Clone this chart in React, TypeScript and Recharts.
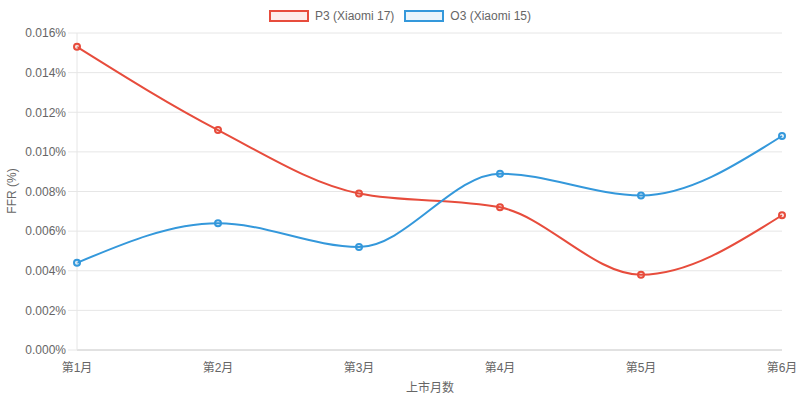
import React from 'react';
import { LineChart, Line, XAxis, YAxis, CartesianGrid } from 'recharts';

const months = ['第1月', '第2月', '第3月', '第4月', '第5月', '第6月'];
const p3Values = [0.0153, 0.0111, 0.0079, 0.0072, 0.0038, 0.0068];
const o3Values = [0.0044, 0.0064, 0.0052, 0.0089, 0.0078, 0.0108];
const yTicks = [0, 0.002, 0.004, 0.006, 0.008, 0.01, 0.012, 0.014, 0.016];

const seriesInfo = [
  { key: 'p3', name: 'P3 (Xiaomi 17)', color: '#e74c3c', fill: 'rgba(231,76,60,0.1)' },
  { key: 'o3', name: 'O3 (Xiaomi 15)', color: '#3498db', fill: 'rgba(52,152,219,0.1)' },
];

const data = months.map((m, i) => ({ month: m, p3: p3Values[i], o3: o3Values[i] }));

const FONT = "'Liberation Sans', Arial, 'Noto Sans CJK SC', sans-serif";

export default function App() {
  return (
    <div style={{ position: 'absolute', left: 0, top: 0, width: 800, height: 401, fontFamily: FONT }}>
      <LineChart
        width={800}
        height={401}
        data={data}
        margin={{ top: 33, right: 18, bottom: 21, left: 0 }}
      >
        <CartesianGrid vertical={false} stroke="#e6e6e6" />
        <XAxis
          dataKey="month"
          height={30}
          tickLine={false}
          tickSize={0}
          tickMargin={13}
          axisLine={{ stroke: '#d0d0d0' }}
          tick={{ fill: '#666', fontSize: 12, fontFamily: FONT }}
          interval={0}
          label={{
            content: () => (
              <text x={430} y={392} textAnchor="middle" fill="#666" fontSize={12} fontFamily={FONT}>
                上市月数
              </text>
            ),
          }}
        />
        <YAxis
          width={77}
          domain={[0, 0.016]}
          ticks={yTicks}
          interval={0}
          tickFormatter={(v: number) => v.toFixed(3) + '%'}
          tickSize={9}
          tickMargin={2}
          tickLine={{ stroke: '#e6e6e6' }}
          axisLine={{ stroke: '#e6e6e6' }}
          tick={{ fill: '#666', fontSize: 12, fontFamily: FONT }}
          label={{
            content: () => (
              <text
                transform="translate(16,191) rotate(-90)"
                textAnchor="middle"
                fill="#666"
                fontSize={12}
                fontFamily={FONT}
              >
                FFR (%)
              </text>
            ),
          }}
        />
        {seriesInfo.map((s) => (
          <Line
            key={s.key}
            type="monotone"
            dataKey={s.key}
            name={s.name}
            stroke={s.color}
            strokeWidth={2}
            dot={{ r: 3, stroke: s.color, strokeWidth: 2, fill: s.fill }}
            isAnimationActive={false}
          />
        ))}
      </LineChart>
      <div
        style={{
          position: 'absolute',
          top: 10,
          left: 0,
          width: 800,
          display: 'flex',
          justifyContent: 'center',
          alignItems: 'center',
          fontSize: 12,
          color: '#666',
          lineHeight: '12px',
        }}
      >
        {seriesInfo.map((s, i) => (
          <div key={s.key} style={{ display: 'flex', alignItems: 'center', marginLeft: i === 0 ? 0 : 10 }}>
            <div
              style={{
                width: 40,
                height: 12,
                boxSizing: 'border-box',
                border: `2px solid ${s.color}`,
                background: s.fill,
                marginRight: 6,
              }}
            />
            <span>{s.name}</span>
          </div>
        ))}
      </div>
    </div>
  );
}
